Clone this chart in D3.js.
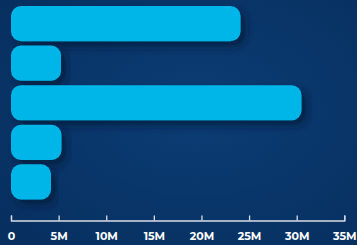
<!DOCTYPE html>
<html>
<head>
<meta charset="utf-8">
<script src="https://cdn.jsdelivr.net/npm/d3@7"></script>
<style>
  body { margin: 0; background: #083769; }
  svg { display: block; }
  .axis text { font-family: "Montserrat", "Poppins", "DejaVu Sans", sans-serif; font-weight: bold; font-size: 11px; fill: #ffffff; }
  .axis path, .axis line { stroke: #d8dde6; stroke-width: 1.3; }
</style>
</head>
<body>
<svg id="chart" width="357" height="245"></svg>
<script>
var categories = ["A", "B", "C", "D", "E"];
var values = [24.1e6, 5.25e6, 30.5e6, 5.3e6, 4.2e6];
var tickValues = [0, 5e6, 10e6, 15e6, 20e6, 25e6, 30e6, 35e6];

var Config = {
  Width: 357,
  Height: 245,
  Left: 11,
  Right: 344.3,
  Top: 6,
  Bottom: 199.5,
  AxisY: 220.5,
  Radius: 10,
  BarColor: "#00b5e8",
};

var svg = d3.select("#chart");

// background with soft vignette
var defs = svg.append("defs");
var grad = defs.append("radialGradient").attr("id", "bg").attr("cx", "55%").attr("cy", "45%").attr("r", "75%");
grad.append("stop").attr("offset", "0%").attr("stop-color", "#0b3d75");
grad.append("stop").attr("offset", "100%").attr("stop-color", "#072f5f");

var shadow = defs.append("filter").attr("id", "shadow")
  .attr("x", "-10%").attr("y", "-30%").attr("width", "130%").attr("height", "180%");
shadow.append("feDropShadow")
  .attr("dx", 5).attr("dy", 5).attr("stdDeviation", 4)
  .attr("flood-color", "#021a38").attr("flood-opacity", 0.75);

svg.append("rect")
  .attr("width", Config.Width)
  .attr("height", Config.Height)
  .attr("fill", "url(#bg)");

var x = d3.scaleLinear().domain([0, 35e6]).range([Config.Left, Config.Right]);
var y = d3.scaleBand().domain(categories).range([Config.Top, Config.Bottom]).paddingInner(0.11).paddingOuter(0);

// bars
svg.append("g").selectAll("rect")
  .data(values)
  .enter()
  .append("rect")
  .attr("x", x(0))
  .attr("y", function (d, i) { return y(categories[i]); })
  .attr("width", function (d) { return x(d) - x(0); })
  .attr("height", y.bandwidth())
  .attr("rx", Config.Radius)
  .attr("ry", Config.Radius)
  .attr("fill", Config.BarColor)
  .attr("filter", "url(#shadow)");

// x axis
var axis = d3.axisBottom(x)
  .tickValues(tickValues)
  .tickSize(-5)
  .tickSizeOuter(-5)
  .tickPadding(12)
  .tickFormat(function (d) { return d === 0 ? "0" : (d / 1e6) + "M"; });

var g = svg.append("g")
  .attr("class", "axis")
  .attr("transform", "translate(0," + Config.AxisY + ")")
  .call(axis);
g.selectAll("text").attr("dy", "0.71em");
</script>
</body>
</html>
